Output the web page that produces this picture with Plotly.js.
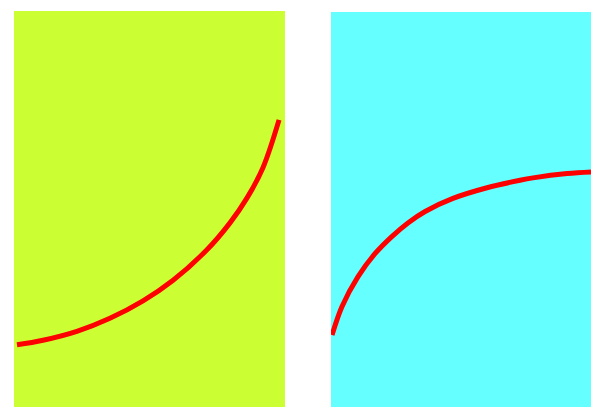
<!DOCTYPE html>
<html>
<head>
<meta charset="utf-8">
<script src="https://cdn.plot.ly/plotly-3.0.1.min.js"></script>
<style>html,body{margin:0;padding:0;background:#fff;}#chart{width:591px;height:407px;}</style>
</head>
<body>
<div id="chart"></div>
<script>
// Left panel curve (growing, convex)
const leftX = [0.11, 1.07, 2.32, 3.54, 4.76, 5.87, 7.12, 7.97, 8.60, 9.19, 9.78];
const leftY = [1.57, 1.685, 1.91, 2.24, 2.68, 3.20, 3.97, 4.65, 5.28, 6.05, 7.25];
// Right panel curve (saturating, concave)
const rightX = [0.04, 0.42, 1.04, 1.69, 2.35, 2.96, 3.62, 4.69, 6.00, 7.27, 7.77, 9.08, 10.0];
const rightY = [1.82, 2.54, 3.30, 3.88, 4.32, 4.66, 4.95, 5.28, 5.55, 5.74, 5.80, 5.91, 5.95];

const lineStyle = {color: '#ff0000', width: 5, shape: 'spline', smoothing: 1};

const data = [
  {x: leftX, y: leftY, xaxis: 'x', yaxis: 'y', mode: 'lines', line: lineStyle, hoverinfo: 'skip', showlegend: false},
  {x: rightX, y: rightY, xaxis: 'x2', yaxis: 'y2', mode: 'lines', line: lineStyle, hoverinfo: 'skip', showlegend: false}
];

const hidden = {visible: false, fixedrange: true};
const layout = {
  width: 591, height: 407,
  margin: {l: 0, r: 0, t: 0, b: 0, pad: 0},
  paper_bgcolor: '#ffffff',
  plot_bgcolor: 'rgba(0,0,0,0)',
  showlegend: false,
  xaxis: Object.assign({domain: [14/591, 285/591], range: [0, 10], anchor: 'y'}, hidden),
  yaxis: Object.assign({domain: [0, 396/407], range: [0, 10], anchor: 'x'}, hidden),
  xaxis2: Object.assign({domain: [331/591, 1], range: [0, 10], anchor: 'y2'}, hidden),
  yaxis2: Object.assign({domain: [0, 395/407], range: [0, 10], anchor: 'x2'}, hidden),
  shapes: [
    {type: 'rect', xref: 'x domain', yref: 'y domain', x0: 0, x1: 1, y0: 0, y1: 1,
     fillcolor: '#ccff33', line: {width: 0}, layer: 'below'},
    {type: 'rect', xref: 'x2 domain', yref: 'y2 domain', x0: 0, x1: 1, y0: 0, y1: 1,
     fillcolor: '#66ffff', line: {width: 0}, layer: 'below'}
  ]
};

Plotly.newPlot('chart', data, layout, {displayModeBar: false, staticPlot: true});
</script>
</body>
</html>
